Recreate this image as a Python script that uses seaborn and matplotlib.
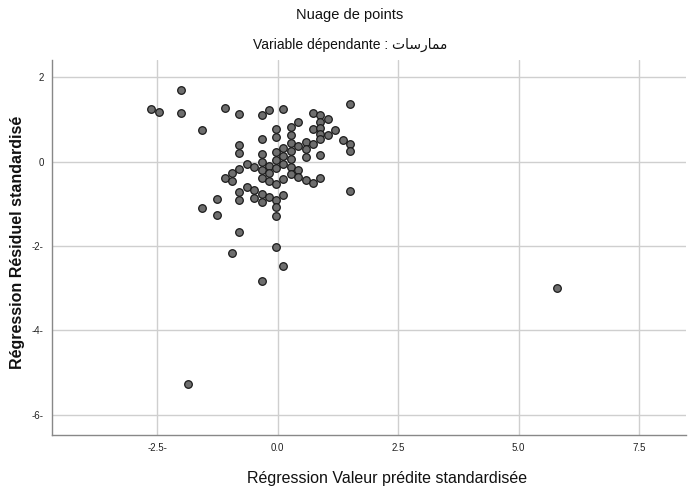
import matplotlib
matplotlib.use("Agg")
import matplotlib.pyplot as plt
import seaborn as sns
import pandas as pd

# Standardized predicted values (x) and standardized residuals (y)
cols = {
    -2.63: [1.24],
    -2.47: [1.17],
    -2.01: [1.70, 1.15],
    -1.86: [-5.27],
    -1.56: [0.74, -1.11],
    -1.25: [-0.88, -1.27],
    -1.10: [1.27, -0.39],
    -0.95: [-0.28, -0.47, -2.16],
    -0.80: [1.14, 0.39, 0.21, -0.18, -0.73, -0.91, -1.67],
    -0.64: [-0.05, -0.61],
    -0.49: [-0.13, -0.68, -0.87],
    -0.33: [1.11, 0.54, 0.18, -0.01, -0.20, -0.38, -0.77, -0.95, -2.82],
    -0.18: [1.22, -0.10, -0.27, -0.45, -0.84],
    -0.03: [0.77, 0.58, 0.22, 0.03, -0.16, -0.53, -0.90, -1.08, -1.29, -2.03],
    0.12: [1.26, 0.32, 0.14, -0.05, -0.41, -0.80, -2.47],
    0.28: [0.82, 0.63, 0.44, 0.25, 0.06, -0.12, -0.30],
    0.43: [0.93, 0.37, -0.19, -0.36],
    0.59: [0.47, 0.29, 0.11, -0.44],
    0.73: [1.16, 0.78, 0.42, -0.51],
    0.88: [1.10, 0.94, 0.80, 0.66, 0.53, 0.16, -0.39],
    1.04: [1.02, 0.64],
    1.20: [0.76],
    1.35: [0.51],
    1.50: [1.37, 0.43, 0.25, -0.69],
    5.80: [-2.99],
}
x_pred = [x for x, ys in cols.items() for _ in ys]
y_resid = [y for ys in cols.values() for y in ys]

x_ticks = [-2.5, 0.0, 2.5, 5.0, 7.5]
x_ticklabels = ["-2.5-", "0.0", "2.5", "5.0", "7.5"]
y_ticks = [2, 0, -2, -4, -6]
y_ticklabels = ["2", "0", "-2-", "-4-", "-6-"]

title = "Nuage de points"
# "ممارسات" in shaped presentation forms, visual order
subtitle = "Variable dépendante : " + "\uFE95\uFE8E\uFEB3\uFEAD\uFE8E\uFEE4\uFEE3"
xlabel = "Régression Valeur prédite standardisée"
ylabel = "Régression Résiduel standardisé"

df = pd.DataFrame({"x": x_pred, "y": y_resid})

sns.set_theme(style="white")
plt.rcParams["font.family"] = ["Liberation Sans", "DejaVu Sans"]

fig = plt.figure(figsize=(6.88, 4.91), dpi=100)
ax = fig.add_axes([52 / 688, 1 - 435 / 491, (686 - 52) / 688, (435 - 60) / 491])

sns.scatterplot(data=df, x="x", y="y", ax=ax, s=30, color="#6e6e6e",
                edgecolor="#1a1a1a", linewidth=0.9, zorder=3)

ax.set_xlim(-4.68, 8.47)
ax.set_ylim(-6.48, 2.41)
ax.set_xticks(x_ticks)
ax.set_xticklabels(x_ticklabels)
ax.set_yticks(y_ticks)
ax.set_yticklabels(y_ticklabels)
ax.grid(True, color="#cfcfcf", linewidth=1.0)
ax.set_axisbelow(True)
ax.tick_params(length=0, labelsize=7, colors="#222222", pad=6)
for s in ["top", "right"]:
    ax.spines[s].set_visible(False)
for s in ["left", "bottom"]:
    ax.spines[s].set_color("#888888")
    ax.spines[s].set_linewidth(1.0)

ax.set_xlabel(xlabel, fontsize=11.5, labelpad=12, color="#111111")
ax.xaxis.set_label_coords((387 - 52) / 634, -0.095)
ax.set_ylabel(ylabel, fontsize=11.5, fontweight="bold", labelpad=4, color="#111111")
ax.yaxis.set_label_coords(-0.042, (435 - 242) / 375)

fig.text(350 / 688, 1 - 15 / 491, title, ha="center", va="center", fontsize=10.5, color="#111111")
fig.text(350 / 688, 1 - 45 / 491, subtitle, ha="center", va="center", fontsize=10, color="#111111",
         family=["Liberation Sans", "DejaVu Sans"])

fig.savefig("out.png", dpi=100)
